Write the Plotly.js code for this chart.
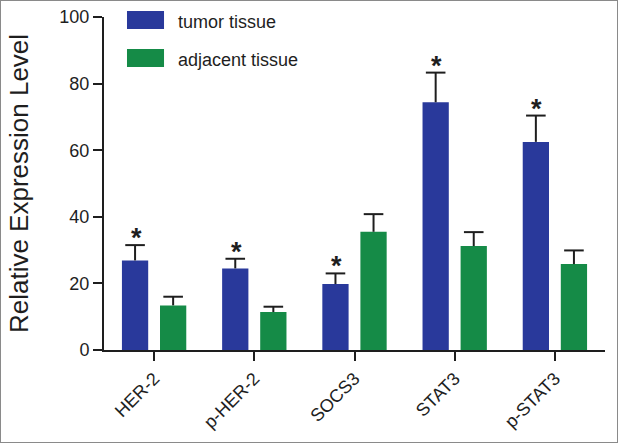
<!DOCTYPE html>
<html>
<head>
<meta charset="utf-8">
<script src="https://cdn.plot.ly/plotly-3.0.1.min.js"></script>
<style>
html,body{margin:0;padding:0;background:#fff;}
#frame{width:616px;height:441px;border:1px solid #8a8a8a;background:#fff;}
#chart{width:616px;height:441px;}
</style>
</head>
<body>
<div id="frame"><div id="chart"></div></div>
<script>
// ---- data ----
const categories = ["HER-2", "p-HER-2", "SOCS3", "STAT3", "p-STAT3"];
const seriesNames = ["tumor tissue", "adjacent tissue"];
const tumorValues = [26.9, 24.5, 19.8, 74.4, 62.5];
const tumorErrors = [4.6, 2.9, 3.2, 8.9, 7.9];
const adjacentValues = [13.4, 11.4, 35.5, 31.2, 25.8];
const adjacentErrors = [2.6, 1.6, 5.3, 4.2, 4.1];
const tumorSignificant = [true, true, true, true, true];
const yTicks = [0, 20, 40, 60, 80, 100];

// ---- styles ----
const blue = "#29399b";
const green = "#158b47";
const ink = "#1e1e1e";
const font = "Liberation Sans, Arial, Helvetica, sans-serif";

function barTrace(name, values, errors, color, group) {
  return {
    type: "bar", name: name, x: categories, y: values,
    offsetgroup: group, alignmentgroup: "g",
    marker: {color: color, line: {width: 0}},
    error_y: {type: "data", symmetric: false, array: errors,
              arrayminus: errors.map(() => 0), thickness: 2, width: 0, color: ink}
  };
}
function capTrace(values, errors, group) {
  return {
    type: "scatter", mode: "markers", x: categories,
    y: values.map((v, i) => v + errors[i]),
    offsetgroup: group, alignmentgroup: "g", showlegend: false, hoverinfo: "skip",
    marker: {symbol: "line-ew", size: 14, color: ink, line: {width: 2, color: ink}}
  };
}

const traces = [
  barTrace(seriesNames[0], tumorValues, tumorErrors, blue, "t"),
  barTrace(seriesNames[1], adjacentValues, adjacentErrors, green, "a"),
  capTrace(tumorValues, tumorErrors, "t"),
  capTrace(adjacentValues, adjacentErrors, "a")
];

const annotations = [];
categories.forEach((c, i) => {
  if (tumorSignificant[i]) {
    annotations.push({
      x: i, y: tumorValues[i] + tumorErrors[i], xref: "x", yref: "y",
      xshift: -18, yshift: -10, text: "<b>*</b>", showarrow: false,
      xanchor: "center", yanchor: "bottom",
      font: {family: font, size: 27, color: ink}
    });
  }
});
// legend labels
const legendColors = [blue, green];
const legendY = [0.991, 0.877];
seriesNames.forEach((n, k) => {
  annotations.push({
    x: 0.1437, y: legendY[k] - 0.006, xref: "paper", yref: "paper",
    text: n, showarrow: false, xanchor: "left", yanchor: "middle",
    font: {family: font, size: 18, color: ink}
  });
});
const shapes = seriesNames.map((n, k) => ({
  type: "rect", xref: "paper", yref: "paper",
  x0: 0.0459, x1: 0.1198, y0: legendY[k] - 0.027, y1: legendY[k] + 0.027,
  fillcolor: legendColors[k], line: {width: 0}
}));

const layout = {
  width: 616, height: 441,
  margin: {l: 103, r: 12, t: 16, b: 92},
  paper_bgcolor: "#fff", plot_bgcolor: "#fff",
  barmode: "group", bargap: 0.24, bargroupgap: 0.31,
  scattermode: "group", scattergap: 0.24,
  showlegend: false,
  font: {family: font, color: ink},
  xaxis: {
    type: "category", range: [-0.5, 4.5],
    showline: true, linecolor: ink, linewidth: 2,
    ticks: "outside", ticklen: 9, tickwidth: 2, tickcolor: ink,
    tickangle: -45, tickfont: {family: font, size: 18, color: ink},
    showgrid: false, zeroline: false
  },
  yaxis: {
    range: [0, 100], tickvals: yTicks, ticktext: yTicks.map(String),
    showline: true, linecolor: ink, linewidth: 2,
    ticks: "outside", ticklen: 9, tickwidth: 2, tickcolor: ink,
    tickfont: {family: font, size: 18, color: ink},
    showgrid: false, zeroline: false,
    title: {text: "Relative Expression Level", font: {family: font, size: 26, color: ink}, standoff: 23}
  },
  annotations: annotations,
  shapes: shapes
};

Plotly.newPlot("chart", traces, layout, {displayModeBar: false, staticPlot: true});
</script>
</body>
</html>
